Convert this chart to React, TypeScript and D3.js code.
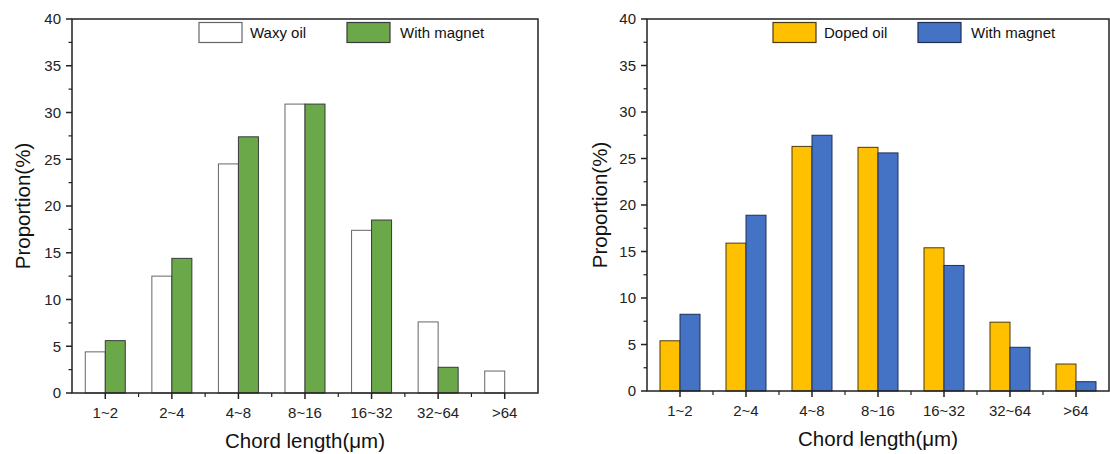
import React from "react";
import * as d3 from "d3";

const categories = ["1~2", "2~4", "4~8", "8~16", "16~32", "32~64", ">64"];
const waxyOil = [4.4, 12.5, 24.5, 30.9, 17.4, 7.6, 2.35];
const waxyMagnet = [5.6, 14.4, 27.4, 30.9, 18.5, 2.75, 0];
const dopedOil = [5.4, 15.9, 26.3, 26.2, 15.4, 7.4, 2.9];
const dopedMagnet = [8.25, 18.9, 27.5, 25.6, 13.5, 4.7, 1.0];
const yTicks = [0, 5, 10, 15, 20, 25, 30, 35, 40];
const yMinorTicks = [2.5, 7.5, 12.5, 17.5, 22.5, 27.5, 32.5, 37.5];

const FONT = "'Liberation Sans', Arial, sans-serif";

type PanelProps = {
  x0: number; x1: number; yTop: number; yBottom: number;
  s1: number[]; s2: number[];
  n1: string; n2: string;
  c1: string; c2: string; st1: string; st2: string;
  leg1x: number; leg2x: number; ytitleX: number;
};

function Panel(p: PanelProps) {
  const x = d3.scaleBand<string>().domain(categories).range([p.x0, p.x1]).padding(0);
  const y = d3.scaleLinear().domain([0, 40]).range([p.yBottom, p.yTop]);
  const barW = 20;
  const axisColor = "#222";
  const bw = x.bandwidth();
  return (
    <g>
      {categories.map((c, i) => {
        const cx = (x(c) as number) + bw / 2;
        return (
          <g key={c}>
            {p.s1[i] > 0 && (
              <rect x={cx - barW} y={y(p.s1[i])} width={barW} height={y(0) - y(p.s1[i])}
                fill={p.c1} stroke={p.st1} strokeWidth={1} />
            )}
            {p.s2[i] > 0 && (
              <rect x={cx} y={y(p.s2[i])} width={barW} height={y(0) - y(p.s2[i])}
                fill={p.c2} stroke={p.st2} strokeWidth={1} />
            )}
          </g>
        );
      })}
      <rect x={p.x0} y={p.yTop} width={p.x1 - p.x0} height={p.yBottom - p.yTop}
        fill="none" stroke={axisColor} strokeWidth={1.5} />
      {yTicks.map((t) => (
        <g key={"y" + t}>
          <line x1={p.x0 - 6} x2={p.x0} y1={y(t)} y2={y(t)} stroke={axisColor} strokeWidth={1.5} />
          <text x={p.x0 - 11} y={y(t)} dy="0.35em" textAnchor="end" fontFamily={FONT} fontSize={15} fill="#222">{t}</text>
        </g>
      ))}
      {yMinorTicks.map((t) => (
        <line key={"ym" + t} x1={p.x0 - 3.5} x2={p.x0} y1={y(t)} y2={y(t)} stroke={axisColor} strokeWidth={1.2} />
      ))}
      {categories.map((c) => {
        const cx = (x(c) as number) + bw / 2;
        return (
          <g key={"x" + c}>
            <line x1={cx} x2={cx} y1={p.yBottom} y2={p.yBottom + 6} stroke={axisColor} strokeWidth={1.5} />
            <text x={cx} y={p.yBottom + 25} textAnchor="middle" fontFamily={FONT} fontSize={15} fill="#222">{c}</text>
          </g>
        );
      })}
      {categories.slice(1).map((c) => (
        <line key={"xm" + c} x1={x(c) as number} x2={x(c) as number} y1={p.yBottom} y2={p.yBottom + 4}
          stroke={axisColor} strokeWidth={1.2} />
      ))}
      <text x={(p.x0 + p.x1) / 2} y={p.yBottom + 55} textAnchor="middle" fontFamily={FONT} fontSize={20.5} fill="#111">Chord length(μm)</text>
      <text transform={`translate(${p.ytitleX},${(p.yTop + p.yBottom) / 2}) rotate(-90)`} textAnchor="middle"
        dy="0.35em" fontFamily={FONT} fontSize={20.5} fill="#111">Proportion(%)</text>
      <rect x={p.leg1x} y={p.yTop + 3.5} width={43} height={20} fill={p.c1} stroke={p.st1} strokeWidth={1.2} />
      <text x={p.leg1x + 51} y={p.yTop + 13.5} dy="0.35em" fontFamily={FONT} fontSize={15} fill="#111">{p.n1}</text>
      <rect x={p.leg2x} y={p.yTop + 3.5} width={43} height={20} fill={p.c2} stroke={p.st2} strokeWidth={1.2} />
      <text x={p.leg2x + 53} y={p.yTop + 13.5} dy="0.35em" fontFamily={FONT} fontSize={15} fill="#111">{p.n2}</text>
    </g>
  );
}

export default function App() {
  return (
    <svg width={1110} height={454} style={{ display: "block", position: "absolute", left: 0, top: 0 }}>
      <rect width={1110} height={454} fill="#fff" />
      <Panel x0={72} x1={538} yTop={19} yBottom={393}
        s1={waxyOil} s2={waxyMagnet} n1="Waxy oil" n2="With magnet"
        c1="#ffffff" c2="#6aa84a" st1="#666" st2="#3a3a3a"
        leg1x={199} leg2x={347} ytitleX={23} />
      <Panel x0={647} x1={1109} yTop={19} yBottom={391}
        s1={dopedOil} s2={dopedMagnet} n1="Doped oil" n2="With magnet"
        c1="#ffc000" c2="#4472c4" st1="#4a3a10" st2="#1f2f55"
        leg1x={773} leg2x={918} ytitleX={600} />
    </svg>
  );
}
